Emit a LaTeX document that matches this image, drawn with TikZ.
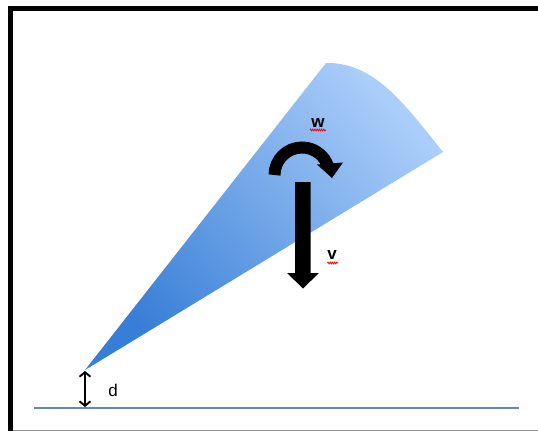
\documentclass[tikz,border=0pt]{standalone}
\usepackage{fontspec}
\setmainfont{Liberation Sans}
\usetikzlibrary{arrows.meta,decorations.pathmorphing}
\definecolor{conedark}{RGB}{55,126,214}
\definecolor{conemid}{RGB}{140,188,245}
\definecolor{conelight}{RGB}{170,205,249}
\definecolor{groundblue}{RGB}{95,138,192}
\definecolor{framegray}{RGB}{150,150,150}
\tikzset{
  lbl/.style={inner sep=0pt, font=\fontsize{17}{19}\selectfont\bfseries},
  spell/.style={draw=red, line width=0.8pt, decorate, decoration={zigzag, amplitude=0.9pt, segment length=2.2pt}},
}
\begin{document}
\begin{tikzpicture}[x=1pt,y=-1pt]
\useasboundingbox (0,0) rectangle (538,431);
% frame
\fill[black] (8,6) rectangle (538,11);
\fill[black] (8,6) rectangle (13,431);
\draw[framegray, line width=1pt] (13,430) -- (538,430);
% cone
\shade[top color=conelight, middle color=conemid, bottom color=conedark, shading angle=-48]
  (85,370) -- (326,63) .. controls (375,62) and (405,105) .. (443,152) -- cycle;
% ground
\coordinate (gl) at (34,408);
\coordinate (gr) at (519,408);
\draw[groundblue, line width=2.4pt] (gl) -- (gr);
% distance d
\coordinate (apex) at (85,371);
\coordinate (gnd) at (85,407);
\draw[line width=1.9pt, {Straight Barb[length=4.5pt,width=11pt]}-{Straight Barb[length=4.5pt,width=11pt]}] (apex) -- (gnd);
\node[inner sep=0pt, font=\fontsize{17}{19}\selectfont, anchor=center] (d) at (113,390) {d};
% rotation arrow w
\draw[line width=12pt] (274.5,175) arc[start angle=180, end angle=343, radius=27.5];
\fill[black] (317,164.5) -- (343,162.5) -- (332,178) -- cycle;
\node[lbl, anchor=center] (w) at (318,123) {w};
\draw[spell] (310,130) -- (326,130);
% velocity arrow v
\fill[black] (295,182) -- (310.7,182) -- (310.7,273) -- (319,273) -- (303,288.5) -- (287,273) -- (295,273) -- cycle;
\node[lbl, anchor=center] (v) at (332,255) {v};
\draw[spell] (327.5,263) -- (338,263);
\end{tikzpicture}
\end{document}
